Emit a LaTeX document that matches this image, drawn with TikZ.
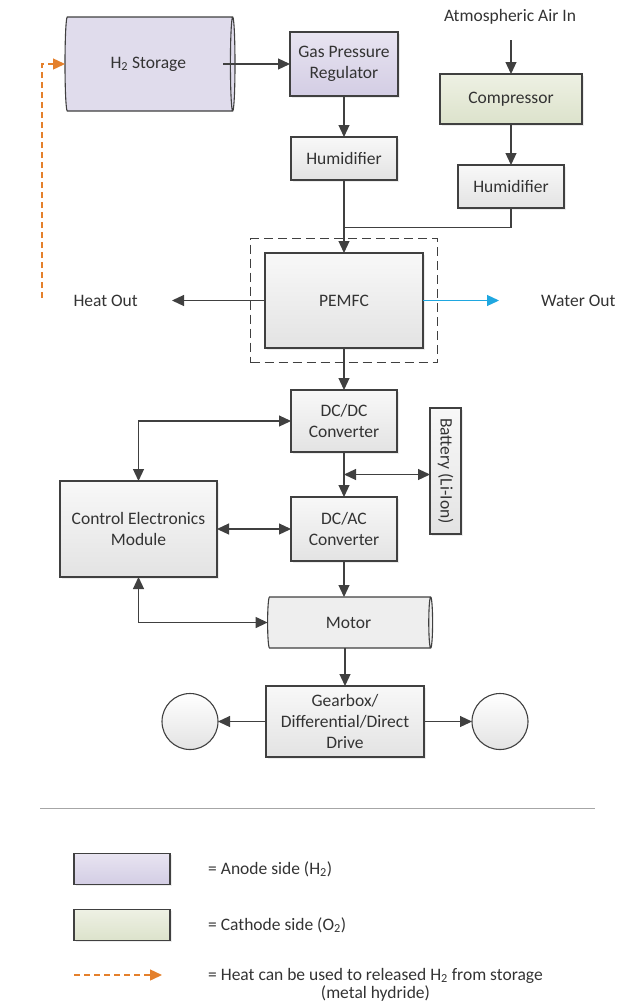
\documentclass[tikz,border=0pt]{standalone}
\usepackage{fontspec}
\setmainfont{Carlito}
\usepackage{xcolor}
\usepackage{tikz}
\usetikzlibrary{shapes.geometric,arrows.meta,positioning,fit,calc,shadows}

\definecolor{linec}{HTML}{404040}
\definecolor{boxtop}{HTML}{F8F8F8}
\definecolor{boxbot}{HTML}{E3E3E3}
\definecolor{anotop}{HTML}{E8E4F1}
\definecolor{anobot}{HTML}{D3CDE4}
\definecolor{cattop}{HTML}{EEF1E4}
\definecolor{catbot}{HTML}{DCE2CB}
\definecolor{heatc}{HTML}{E4802C}
\definecolor{waterc}{HTML}{1FA7E0}

\begin{document}
\begin{tikzpicture}[
  x=1pt, y=1pt,
  font=\fontsize{17.5}{21}\selectfont,
  text=black!80,
  box/.style={draw=linec, line width=1.1pt, top color=boxtop, bottom color=boxbot, align=center, inner sep=2pt, outer sep=0pt,
    drop shadow={shadow xshift=1.5pt, shadow yshift=-1.5pt, opacity=0.15}},
  anode/.style={box, top color=anotop, bottom color=anobot},
  cathode/.style={box, top color=cattop, bottom color=catbot},
  tank/.style={cylinder, draw=linec, line width=1.1pt, shape aspect=0.25, align=center, inner sep=2pt, outer sep=0pt},
  wheel/.style={circle, draw=linec, line width=1.1pt, top color=white, bottom color=boxbot, minimum size=56pt, outer sep=0pt},
  lbl/.style={inner sep=0pt},
  arr/.style={-{Triangle[length=12pt,width=11pt]}, draw=linec, line width=1.2pt},
  dbl/.style={{Triangle[length=12pt,width=11pt]}-{Triangle[length=12pt,width=11pt]}, draw=linec, line width=1.2pt},
  hot/.style={-{Triangle[length=12pt,width=11pt]}, draw=heatc, line width=1.4pt, dash pattern=on 6pt off 4pt},
  wet/.style={-{Triangle[length=12pt,width=11pt]}, draw=waterc, line width=1.2pt}
]
  \useasboundingbox (0,0) rectangle (619,-1007);

  % hydrogen side
  \node[anode, minimum width=108pt, minimum height=64pt] (gpr) at (344,-64) {Gas Pressure\\Regulator};
  \node[tank, fill=anobot!70, minimum height=170pt, minimum width=94pt, left=55pt of gpr] (stor) {H\textsubscript{2} Storage};
  \node[box, minimum width=106pt, minimum height=43pt, below=41pt of gpr] (hum1) {Humidifier};

  % air side
  \node[cathode, minimum width=142pt, minimum height=50pt, right=42pt of gpr, yshift=-35pt] (comp) {Compressor};
  \node[lbl] (air) at (510,-17) {Atmospheric Air In};
  \node[box, minimum width=106pt, minimum height=43pt, below=41pt of comp] (hum2) {Humidifier};

  % fuel cell
  \node[box, minimum width=158pt, minimum height=95pt, below=73pt of hum1] (pemfc) {PEMFC};
  \node[draw=linec, line width=1.2pt, dash pattern=on 9pt off 5pt, fit=(pemfc), inner sep=14.5pt] (stack) {};
  \node[lbl, left=127pt of pemfc] (heatout) {Heat Out};
  \node[lbl, right=118pt of pemfc] (water) {Water Out};

  % power electronics
  \node[box, minimum width=106pt, minimum height=62pt, below=42pt of pemfc] (dcdc) {DC/DC\\Converter};
  \node[box, minimum width=106pt, minimum height=64pt, below=45pt of dcdc] (dcac) {DC/AC\\Converter};
  \node[box, rotate=-90, minimum width=126pt, minimum height=31pt] (batt) at (445.5,-471) {Battery (Li-Ion)};
  \node[box, minimum width=157pt, minimum height=96pt, left=74pt of dcac] (cem) {Control Electronics\\Module};

  % drive train
  \node[tank, fill=boxbot!60, minimum height=165pt, minimum width=51pt, below=36pt of dcac, xshift=4.5pt] (motor) {Motor};
  \node[box, minimum width=158pt, minimum height=71pt, below=38pt of motor, xshift=-3.5pt] (gear) {Gearbox/\\Differential/Direct\\Drive};
  \node[wheel, left=48pt of gear] (wl) {};
  \node[wheel, right=48pt of gear] (wr) {};

  \coordinate (airin) at ($(comp.north)+(0,34pt)$);
  \coordinate (mix) at ($(hum1.south)!0.65!(pemfc.north)$);
  \coordinate (jb) at ($(dcdc.south)!0.5!(dcac.north)$);
  \coordinate (hsrc) at (42,-298);

  \draw[arr] ($(stor.east)+(-12pt,0)$) -- (gpr);
  \draw[arr] (gpr) -- (hum1);
  \draw[arr] (airin) -- (comp);
  \draw[arr] (comp) -- (hum2);
  \draw[arr] (hum1) -- (pemfc);
  \draw[draw=linec, line width=1.2pt] (hum2.south) |- (mix);
  \draw[arr] (pemfc.west) -- ($(heatout.east)+(34pt,0)$);
  \draw[wet] (pemfc.east) -- ($(water.west)+(-42pt,0)$);
  \draw[hot] (hsrc) |- (stor.west);
  \draw[arr] (pemfc) -- (dcdc);
  \draw[arr] (dcdc) -- (dcac);
  \draw[dbl] (jb) -- (jb -| batt.south);
  \draw[dbl] (cem.north) |- (dcdc.west);
  \draw[dbl] (cem) -- (dcac);
  \draw[dbl] (cem.south) |- (motor.west);
  \draw[arr] (dcac.south) -- (dcac.south |- motor.north);
  \draw[arr] (gear.north |- motor.south) -- (gear);
  \draw[arr] (gear) -- (wl);
  \draw[arr] (gear) -- (wr);

  % legend
  \draw[draw=black!35, line width=0.8pt] (40,-808) -- (595,-808);
  \node[anode, minimum width=96pt, minimum height=31pt] (lgano) at (122,-869) {};
  \node[cathode, minimum width=96pt, minimum height=31pt, below=25pt of lgano] (lgcat) {};
  \node[lbl, right=38pt of lgano] (lgtxa) {= Anode side (H\textsubscript{2})};
  \node[lbl, right=38pt of lgcat] (lgtxc) {= Cathode side (O\textsubscript{2})};
  \coordinate (lga) at (74,-975);
  \coordinate (lgb) at (162,-975);
  \draw[hot] (lga) -- (lgb);
  \node[lbl, anchor=north west, align=center] (lgtxh) at (208,-968) {= Heat can be used to released H\textsubscript{2} from storage\\[-3pt](metal hydride)};
\end{tikzpicture}
\end{document}
